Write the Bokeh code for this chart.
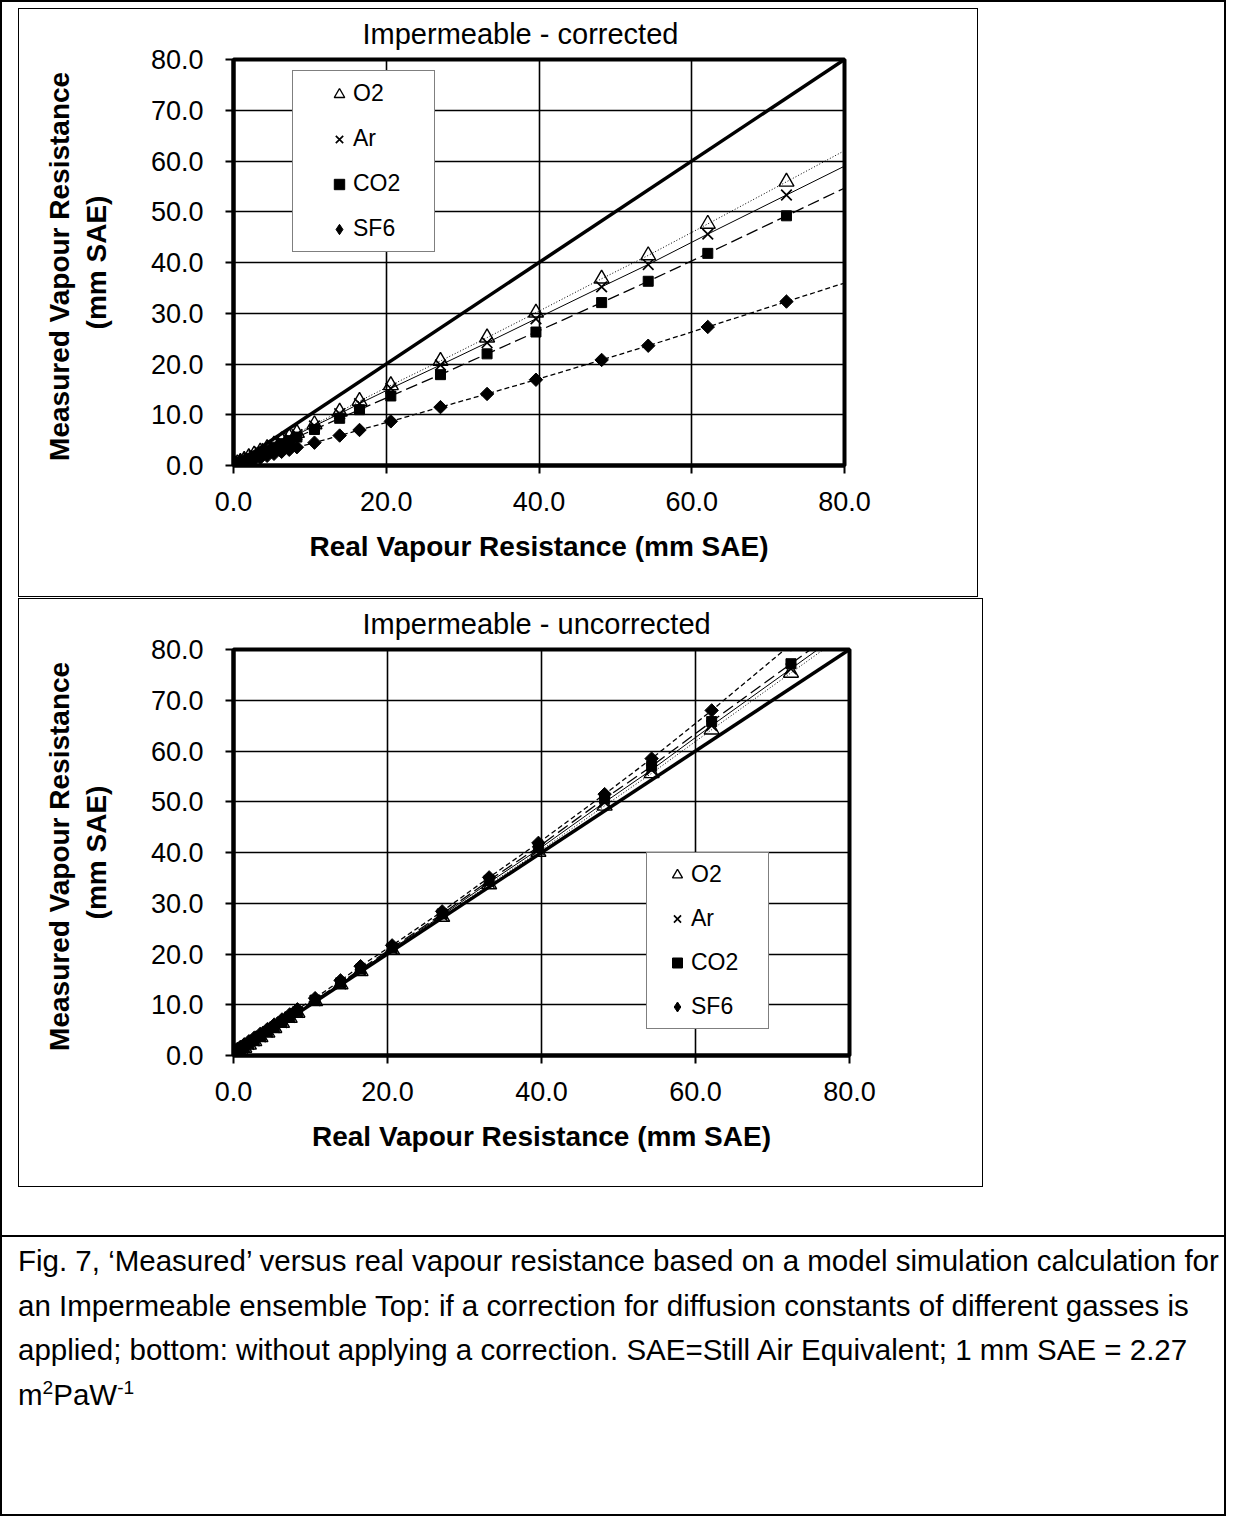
import numpy as np
from bokeh.plotting import figure
from bokeh.models import (Range1d, FixedTicker, NumeralTickFormatter, Legend, LegendItem,
                          Slope, Div, ColumnDataSource)
from bokeh.layouts import column
from bokeh.embed import file_html
from bokeh.resources import INLINE

# ---------------- data ----------------
real_resistance = [0.2, 0.5, 0.9, 1.4, 2.0, 2.7, 3.5, 4.4, 5.3, 6.3, 7.3, 8.3, 10.6, 13.9,
                   16.5, 20.6, 27.1, 33.2, 39.6, 48.2, 54.3, 62.1, 72.4, 85.9]

corr_o2 = [0.2, 0.4, 0.7, 1.1, 1.6, 2.1, 2.7, 3.4, 4.1, 4.9, 5.6, 6.4, 8.1, 10.6, 12.7, 15.8,
           20.6, 25.2, 30.1, 36.8, 41.4, 47.6, 55.9, 66.8]
corr_ar = [0.15, 0.37, 0.67, 1.04, 1.5, 2.0, 2.6, 3.3, 3.9, 4.7, 5.4, 6.1, 7.8, 10.2, 12.2, 15.2,
           19.8, 24.2, 28.9, 35.2, 39.6, 45.6, 53.3, 63.4]
corr_co2 = [0.14, 0.34, 0.61, 0.95, 1.36, 1.84, 2.4, 3.0, 3.6, 4.3, 4.9, 5.6, 7.1, 9.3, 11.0, 13.7,
            17.9, 22.0, 26.3, 32.1, 36.3, 41.8, 49.2, 58.9]
corr_sf6 = [0.09, 0.22, 0.39, 0.6, 0.86, 1.16, 1.5, 1.9, 2.3, 2.7, 3.1, 3.6, 4.5, 5.9, 7.0, 8.7,
            11.5, 14.1, 16.9, 20.8, 23.6, 27.3, 32.3, 38.8]

unc_o2 = [0.3, 0.6, 1.0, 1.5, 2.1, 2.8, 3.6, 4.5, 5.4, 6.4, 7.4, 8.4, 10.7, 14.0, 16.6, 20.8,
          27.3, 33.7, 40.1, 49.2, 55.6, 64.2, 75.4, 90.1]
unc_ar = [0.4, 0.7, 1.1, 1.6, 2.2, 2.9, 3.7, 4.6, 5.5, 6.5, 7.5, 8.5, 10.8, 14.1, 16.8, 21.0,
          27.6, 34.1, 40.6, 49.9, 56.3, 65.0, 76.2, 90.9]
unc_co2 = [0.5, 0.8, 1.2, 1.7, 2.3, 3.0, 3.8, 4.7, 5.6, 6.6, 7.6, 8.6, 10.9, 14.3, 17.0, 21.2,
           27.9, 34.5, 41.1, 50.6, 57.0, 65.8, 77.2, 92.1]
unc_sf6 = [1.0, 1.3, 1.7, 2.2, 2.8, 3.5, 4.3, 5.2, 6.1, 7.1, 8.1, 9.1, 11.3, 14.8, 17.6, 21.7,
           28.4, 35.1, 41.9, 51.5, 58.5, 68.0, 81.0, 95.7]

series_names = ["O2", "Ar", "CO2", "SF6"]
x_ticks = [0, 20, 40, 60, 80]
y_ticks = [0, 10, 20, 30, 40, 50, 60, 70, 80]
axis_range = (0, 80)

x_title = "Real Vapour Resistance (mm SAE)"
y_title = "Measured  Vapour Resistance\n(mm SAE)"
SUP = '<sup style="line-height:0;font-size:65%">'
caption_lines = [
    "Fig. 7, \u2018Measured\u2019 versus real vapour resistance based on a model simulation calculation for",
    "an Impermeable ensemble Top: if a correction for diffusion constants of different gasses is",
    "applied; bottom: without applying a correction. SAE=Still Air Equivalent; 1 mm SAE = 2.27",
    "m" + SUP + "2</sup>PaW" + SUP + "-1</sup>",
]

FONT = "Liberation Sans"

styles = {
    "O2": dict(marker="triangle", size=15, fill_alpha=0.0, line_width=1.4, angle=0.0,
               dash="1 2", lw=1.0),
    "Ar": dict(marker="x", size=15, fill_alpha=1.0, line_width=1.7, angle=0.0,
               dash="solid", lw=1.0),
    "CO2": dict(marker="square", size=10, fill_alpha=1.0, line_width=1, angle=0.0,
                dash="12 5", lw=1.3),
    "SF6": dict(marker="square", size=9.5, fill_alpha=1.0, line_width=1,
                angle=np.pi / 4, dash="5 3", lw=1.3),
}


def make_chart(title, ys, width, right_border, legend_loc, legend_cfg):
    p = figure(width=width, height=589, x_range=Range1d(*axis_range), y_range=Range1d(*axis_range),
               output_backend="svg", toolbar_location=None,
               min_border_left=214, min_border_right=right_border,
               min_border_top=50, min_border_bottom=133,
               background_fill_color="white", border_fill_color="white",
               styles={"border": "1px solid black"})
    p.title.text = title
    p.title.text_font = FONT
    p.title.text_font_size = "29px"
    p.title.text_font_style = "normal"
    p.title.text_color = "black"
    p.title.align = "left"
    p.title.offset = 129
    p.title.vertical_align = "top"
    p.title.standoff = 15

    p.outline_line_color = "black"
    p.outline_line_width = 4
    p.outline_line_alpha = 1

    for ax, ticks in ((p.xaxis, x_ticks), (p.yaxis, y_ticks)):
        ax.ticker = FixedTicker(ticks=ticks)
        ax.formatter = NumeralTickFormatter(format="0.0")
        ax.major_label_text_font = FONT
        ax.major_label_text_font_size = "27px"
        ax.major_label_text_color = "black"
        ax.axis_label_text_font = FONT
        ax.axis_label_text_font_size = "28px"
        ax.axis_label_text_font_style = "bold"
        ax.axis_label_text_color = "black"
        ax.axis_line_width = 4
        ax.axis_line_color = "black"
        ax.major_tick_line_width = 2
        ax.major_tick_line_color = "black"
        ax.major_tick_out = 8
        ax.major_tick_in = 0
        ax.minor_tick_line_color = None
    p.xaxis.axis_label = x_title
    p.yaxis.axis_label = y_title
    p.xaxis.major_label_standoff = 18
    p.yaxis.major_label_standoff = 22
    p.xaxis.axis_label_standoff = 17
    p.yaxis.axis_label_standoff = 36

    p.xgrid.ticker = FixedTicker(ticks=x_ticks)
    p.ygrid.ticker = FixedTicker(ticks=y_ticks)
    for g in (p.xgrid, p.ygrid):
        g.grid_line_color = "black"
        g.grid_line_width = 1.6
        g.grid_line_alpha = 1

    one_to_one = Slope(gradient=1, y_intercept=0, line_color="black", line_width=3.5, level="glyph")
    p.add_layout(one_to_one)

    src = ColumnDataSource(dict(x=real_resistance, **{n: v for n, v in zip(series_names, ys)}))
    marker_renderers = []
    for name in series_names:
        st = styles[name]
        p.line("x", name, source=src, line_color="black", line_width=st["lw"], line_dash=st["dash"])
    for name in series_names:
        st = styles[name]
        r = p.scatter("x", name, source=src, marker=st["marker"], size=st["size"],
                      line_color="black", fill_color="black" if st["fill_alpha"] > 0 else "white",
                      fill_alpha=st["fill_alpha"], line_width=st["line_width"], angle=st["angle"])
        marker_renderers.append(r)

    # legend glyph for SF6 (diamond) - drawn from the off-range last point only
    tail = ColumnDataSource(dict(x=real_resistance[-1:], y=ys[3][-1:]))
    sf6_leg = p.scatter("x", "y", source=tail, marker="diamond", size=10, line_color="black",
                        fill_color="black")
    leg_renderers = marker_renderers[:3] + [sf6_leg]

    items = [LegendItem(label=n, renderers=[r]) for n, r in zip(series_names, leg_renderers)]
    legend = Legend(items=items, location=legend_loc, orientation="vertical",
                    border_line_color="black", border_line_width=1.5,
                    background_fill_color="white", background_fill_alpha=1.0,
                    label_text_font=FONT, label_text_font_size="23px", label_text_color="black",
                    title="\u00a0", title_location="left", title_text_alpha=0.0,
                    label_standoff=0, margin=0, **legend_cfg)
    p.add_layout(legend)
    return p


top = make_chart("Impermeable - corrected", [corr_o2, corr_ar, corr_co2, corr_sf6], 960, 130,
                 (59, 213),
                 dict(padding=9, spacing=18, glyph_width=28, glyph_height=26, label_height=26,
                      label_width=72, title_text_font_size="17px", title_standoff=3))
top.margin = (6, 0, 0, 16)

bottom = make_chart("Impermeable - uncorrected", [unc_o2, unc_ar, unc_co2, unc_sf6], 965, 135,
                    (413, 26),
                    dict(padding=8, spacing=17, glyph_width=28, glyph_height=25, label_height=25,
                         label_width=69, title_text_font_size="7px", title_standoff=1))
bottom.margin = (1, 0, 0, 16)

caption = Div(text="<br>".join(caption_lines), width=1222, height=279,
              styles={"font-family": FONT, "font-size": "29.5px", "line-height": "44.5px",
                      "border-top": "2px solid black", "padding-left": "16px", "padding-top": "2px",
                      "white-space": "nowrap", "color": "black", "box-sizing": "border-box"})
caption.margin = (48, 0, 0, 0)

page = column(top, bottom, caption, spacing=0,
              styles={"border": "2px solid black"})

open("out.html", "w").write(file_html(page, INLINE))
